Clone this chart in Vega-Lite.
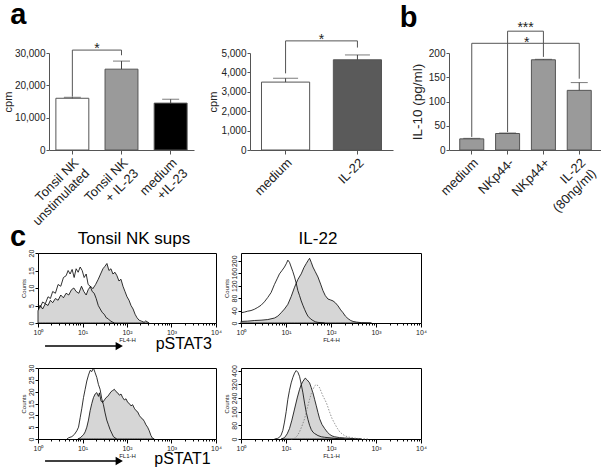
{
  "$schema": "https://vega.github.io/schema/vega-lite/v6.json",
  "background": "white",
  "padding": {"left": 2, "top": 0, "right": 0, "bottom": 0},
  "autosize": {"type": "pad"},
  "config": {
    "font": "Liberation Sans",
    "view": {"stroke": null},
    "axis": {"grid": false, "domainColor": "#555", "tickColor": "#555", "labelColor": "#222", "titleColor": "#222", "titleFontWeight": "normal", "labelOverlap": false},
    "title": {"color": "black"}
  },
  "datasets": {
    "one": [{"k": 1}],
    "a1": [
      {"group": "Tonsil NK|unstimulated", "cpm": 16000, "upper": 16300},
      {"group": "Tonsil NK|+ IL-23", "cpm": 25000, "upper": 27500},
      {"group": "medium|+IL-23", "cpm": 14500, "upper": 15700}
    ],
    "a1sig": [
      {"from": "Tonsil NK|unstimulated", "to": "Tonsil NK|+ IL-23", "top": 30900, "leftEnd": 16500, "rightEnd": 29300, "star": "*"}
    ],
    "a2": [
      {"group": "medium", "cpm": 3500, "upper": 3700},
      {"group": "IL-22", "cpm": 4650, "upper": 4900}
    ],
    "a2sig": [
      {"from": "medium", "to": "IL-22", "top": 5625, "leftEnd": 3950, "rightEnd": 5280, "star": "*"}
    ],
    "b": [
      {"group": "medium", "il10": 23, "upper": 24},
      {"group": "NKp44-", "il10": 34, "upper": 35},
      {"group": "NKp44+", "il10": 186, "upper": 187},
      {"group": "IL-22|(80ng/ml)", "il10": 123, "upper": 139}
    ],
    "bsig": [
      {"from": "NKp44-", "to": "NKp44+", "top": 245, "leftEnd": 37, "rightEnd": 192, "star": "***"},
      {"from": "medium", "to": "IL-22|(80ng/ml)", "top": 220, "leftEnd": 27, "rightEnd": 147, "star": "*"}
    ],
    "c1": [
      {"s": "shaded", "fl": 1.0, "n": 3.5}, {"s": "shaded", "fl": 1.13, "n": 5}, {"s": "shaded", "fl": 1.27, "n": 4}, {"s": "shaded", "fl": 1.46, "n": 5.5},
      {"s": "shaded", "fl": 1.68, "n": 5}, {"s": "shaded", "fl": 1.9, "n": 6.5}, {"s": "shaded", "fl": 2.14, "n": 5.8}, {"s": "shaded", "fl": 2.46, "n": 7},
      {"s": "shaded", "fl": 2.83, "n": 6.5}, {"s": "shaded", "fl": 3.25, "n": 8}, {"s": "shaded", "fl": 3.73, "n": 7.2}, {"s": "shaded", "fl": 4.28, "n": 8.5},
      {"s": "shaded", "fl": 4.92, "n": 8}, {"s": "shaded", "fl": 5.65, "n": 9.5}, {"s": "shaded", "fl": 6.38, "n": 10}, {"s": "shaded", "fl": 7.2, "n": 9},
      {"s": "shaded", "fl": 8.27, "n": 8.5}, {"s": "shaded", "fl": 9.49, "n": 10.5}, {"s": "shaded", "fl": 10.7, "n": 9}, {"s": "shaded", "fl": 12.1, "n": 8},
      {"s": "shaded", "fl": 13.4, "n": 9.5}, {"s": "shaded", "fl": 15.2, "n": 10.5}, {"s": "shaded", "fl": 17.1, "n": 9.8}, {"s": "shaded", "fl": 19.7, "n": 11},
      {"s": "shaded", "fl": 22.6, "n": 12.5}, {"s": "shaded", "fl": 25.5, "n": 14}, {"s": "shaded", "fl": 28.8, "n": 15.5}, {"s": "shaded", "fl": 31.9, "n": 16.2},
      {"s": "shaded", "fl": 35.4, "n": 17}, {"s": "shaded", "fl": 39.3, "n": 15}, {"s": "shaded", "fl": 43.6, "n": 15.5}, {"s": "shaded", "fl": 48.3, "n": 14},
      {"s": "shaded", "fl": 53.6, "n": 14.5}, {"s": "shaded", "fl": 59.5, "n": 13.5}, {"s": "shaded", "fl": 66.0, "n": 12}, {"s": "shaded", "fl": 73.2, "n": 12.5},
      {"s": "shaded", "fl": 81.2, "n": 10.5}, {"s": "shaded", "fl": 90.1, "n": 9}, {"s": "shaded", "fl": 100, "n": 7.5}, {"s": "shaded", "fl": 111, "n": 6.5},
      {"s": "shaded", "fl": 123, "n": 5}, {"s": "shaded", "fl": 137, "n": 4}, {"s": "shaded", "fl": 152, "n": 2.5}, {"s": "shaded", "fl": 168, "n": 1.5},
      {"s": "shaded", "fl": 187, "n": 0.8}, {"s": "shaded", "fl": 214, "n": 0.5}, {"s": "shaded", "fl": 242, "n": 0.2}, {"s": "shaded", "fl": 264, "n": 0.6},
      {"s": "shaded", "fl": 314, "n": 0},
      {"s": "open", "fl": 1.0, "n": 5.4}, {"s": "open", "fl": 1.13, "n": 4.5}, {"s": "open", "fl": 1.27, "n": 6}, {"s": "open", "fl": 1.46, "n": 5.5},
      {"s": "open", "fl": 1.68, "n": 7.5}, {"s": "open", "fl": 1.9, "n": 7}, {"s": "open", "fl": 2.14, "n": 9}, {"s": "open", "fl": 2.46, "n": 8.5},
      {"s": "open", "fl": 2.83, "n": 11}, {"s": "open", "fl": 3.25, "n": 10.5}, {"s": "open", "fl": 3.73, "n": 13}, {"s": "open", "fl": 4.28, "n": 13.5},
      {"s": "open", "fl": 4.75, "n": 15}, {"s": "open", "fl": 5.27, "n": 14}, {"s": "open", "fl": 5.85, "n": 15.3}, {"s": "open", "fl": 6.49, "n": 13},
      {"s": "open", "fl": 7.2, "n": 15.5}, {"s": "open", "fl": 7.99, "n": 14.5}, {"s": "open", "fl": 8.86, "n": 16}, {"s": "open", "fl": 9.83, "n": 15},
      {"s": "open", "fl": 10.9, "n": 13}, {"s": "open", "fl": 12.1, "n": 14}, {"s": "open", "fl": 13.4, "n": 11}, {"s": "open", "fl": 14.9, "n": 10.5},
      {"s": "open", "fl": 16.5, "n": 9}, {"s": "open", "fl": 18.3, "n": 8.5}, {"s": "open", "fl": 20.3, "n": 7}, {"s": "open", "fl": 22.6, "n": 5},
      {"s": "open", "fl": 25.0, "n": 4}, {"s": "open", "fl": 27.8, "n": 3}, {"s": "open", "fl": 30.8, "n": 2.5}, {"s": "open", "fl": 34.2, "n": 1.5},
      {"s": "open", "fl": 37.9, "n": 1.2}, {"s": "open", "fl": 42.1, "n": 0.6}, {"s": "open", "fl": 46.7, "n": 0.3}, {"s": "open", "fl": 51.8, "n": 0}
    ],
    "c2": [
      {"s": "open", "fl": 1.0, "n": 33}, {"s": "open", "fl": 1.19, "n": 35}, {"s": "open", "fl": 1.41, "n": 38}, {"s": "open", "fl": 1.67, "n": 40},
      {"s": "open", "fl": 1.98, "n": 44}, {"s": "open", "fl": 2.35, "n": 50}, {"s": "open", "fl": 2.79, "n": 57}, {"s": "open", "fl": 3.31, "n": 68},
      {"s": "open", "fl": 3.93, "n": 82}, {"s": "open", "fl": 4.67, "n": 98}, {"s": "open", "fl": 5.54, "n": 124}, {"s": "open", "fl": 6.35, "n": 142},
      {"s": "open", "fl": 7.16, "n": 158}, {"s": "open", "fl": 8.08, "n": 168}, {"s": "open", "fl": 9.26, "n": 180}, {"s": "open", "fl": 10.26, "n": 192},
      {"s": "open", "fl": 10.99, "n": 202}, {"s": "open", "fl": 11.97, "n": 195}, {"s": "open", "fl": 13.04, "n": 180}, {"s": "open", "fl": 14.21, "n": 165},
      {"s": "open", "fl": 15.48, "n": 148}, {"s": "open", "fl": 16.86, "n": 128}, {"s": "open", "fl": 18.36, "n": 104}, {"s": "open", "fl": 20.01, "n": 88},
      {"s": "open", "fl": 21.8, "n": 71}, {"s": "open", "fl": 23.74, "n": 57}, {"s": "open", "fl": 25.86, "n": 44}, {"s": "open", "fl": 28.18, "n": 32},
      {"s": "open", "fl": 30.69, "n": 22}, {"s": "open", "fl": 35.19, "n": 13}, {"s": "open", "fl": 39.67, "n": 8}, {"s": "open", "fl": 44.73, "n": 4},
      {"s": "open", "fl": 51.29, "n": 2}, {"s": "open", "fl": 72.23, "n": 0},
      {"s": "shaded", "fl": 1.0, "n": 5}, {"s": "shaded", "fl": 1.41, "n": 6}, {"s": "shaded", "fl": 1.98, "n": 8}, {"s": "shaded", "fl": 2.79, "n": 9},
      {"s": "shaded", "fl": 3.93, "n": 11}, {"s": "shaded", "fl": 5.54, "n": 16}, {"s": "shaded", "fl": 6.57, "n": 22}, {"s": "shaded", "fl": 7.8, "n": 33},
      {"s": "shaded", "fl": 9.26, "n": 45}, {"s": "shaded", "fl": 10.99, "n": 60}, {"s": "shaded", "fl": 13.04, "n": 85}, {"s": "shaded", "fl": 15.48, "n": 115},
      {"s": "shaded", "fl": 18.36, "n": 140}, {"s": "shaded", "fl": 21.8, "n": 158}, {"s": "shaded", "fl": 25.0, "n": 178}, {"s": "shaded", "fl": 28.18, "n": 191},
      {"s": "shaded", "fl": 30.69, "n": 200}, {"s": "shaded", "fl": 33.43, "n": 208}, {"s": "shaded", "fl": 36.41, "n": 195}, {"s": "shaded", "fl": 39.67, "n": 180},
      {"s": "shaded", "fl": 44.73, "n": 165}, {"s": "shaded", "fl": 51.29, "n": 148}, {"s": "shaded", "fl": 58.84, "n": 125}, {"s": "shaded", "fl": 66.3, "n": 104},
      {"s": "shaded", "fl": 74.74, "n": 88}, {"s": "shaded", "fl": 85.72, "n": 77}, {"s": "shaded", "fl": 98.31, "n": 74}, {"s": "shaded", "fl": 110.8, "n": 71},
      {"s": "shaded", "fl": 125.0, "n": 65}, {"s": "shaded", "fl": 143.3, "n": 55}, {"s": "shaded", "fl": 164.3, "n": 42}, {"s": "shaded", "fl": 185.2, "n": 33},
      {"s": "shaded", "fl": 208.8, "n": 22}, {"s": "shaded", "fl": 239.4, "n": 14}, {"s": "shaded", "fl": 274.6, "n": 8}, {"s": "shaded", "fl": 309.6, "n": 5},
      {"s": "shaded", "fl": 367.4, "n": 3}, {"s": "shaded", "fl": 474.9, "n": 1}, {"s": "shaded", "fl": 793.6, "n": 0}
    ],
    "c3": [
      {"s": "open", "fl": 4.46, "n": 0}, {"s": "open", "fl": 4.86, "n": 0.5}, {"s": "open", "fl": 5.77, "n": 1}, {"s": "open", "fl": 6.62, "n": 2},
      {"s": "open", "fl": 7.47, "n": 3.5}, {"s": "open", "fl": 8.14, "n": 5}, {"s": "open", "fl": 8.87, "n": 9}, {"s": "open", "fl": 9.66, "n": 13},
      {"s": "open", "fl": 10.53, "n": 17.5}, {"s": "open", "fl": 11.47, "n": 21}, {"s": "open", "fl": 12.5, "n": 24.5}, {"s": "open", "fl": 13.62, "n": 27},
      {"s": "open", "fl": 14.85, "n": 29}, {"s": "open", "fl": 16.18, "n": 28.5}, {"s": "open", "fl": 17.63, "n": 30}, {"s": "open", "fl": 19.21, "n": 28},
      {"s": "open", "fl": 20.94, "n": 26}, {"s": "open", "fl": 22.82, "n": 23}, {"s": "open", "fl": 24.86, "n": 21}, {"s": "open", "fl": 27.09, "n": 17},
      {"s": "open", "fl": 29.52, "n": 14.5}, {"s": "open", "fl": 32.18, "n": 11}, {"s": "open", "fl": 35.06, "n": 8}, {"s": "open", "fl": 38.21, "n": 6},
      {"s": "open", "fl": 41.63, "n": 4}, {"s": "open", "fl": 45.37, "n": 2.5}, {"s": "open", "fl": 49.43, "n": 1}, {"s": "open", "fl": 53.86, "n": 0.5},
      {"s": "open", "fl": 58.71, "n": 0},
      {"s": "shaded", "fl": 7.86, "n": 0}, {"s": "shaded", "fl": 8.87, "n": 0.5}, {"s": "shaded", "fl": 10.53, "n": 1.8}, {"s": "shaded", "fl": 11.47, "n": 3},
      {"s": "shaded", "fl": 12.5, "n": 5}, {"s": "shaded", "fl": 13.62, "n": 8}, {"s": "shaded", "fl": 14.85, "n": 12}, {"s": "shaded", "fl": 16.18, "n": 15},
      {"s": "shaded", "fl": 17.63, "n": 17.5}, {"s": "shaded", "fl": 19.21, "n": 19}, {"s": "shaded", "fl": 20.94, "n": 19.6}, {"s": "shaded", "fl": 22.82, "n": 18},
      {"s": "shaded", "fl": 24.02, "n": 19.5}, {"s": "shaded", "fl": 26.18, "n": 16}, {"s": "shaded", "fl": 28.52, "n": 15.5}, {"s": "shaded", "fl": 31.08, "n": 16.5},
      {"s": "shaded", "fl": 33.88, "n": 17.5}, {"s": "shaded", "fl": 36.92, "n": 18}, {"s": "shaded", "fl": 40.23, "n": 19}, {"s": "shaded", "fl": 43.84, "n": 20},
      {"s": "shaded", "fl": 47.77, "n": 20.5}, {"s": "shaded", "fl": 52.05, "n": 21}, {"s": "shaded", "fl": 56.72, "n": 20}, {"s": "shaded", "fl": 61.8, "n": 19.5},
      {"s": "shaded", "fl": 67.38, "n": 18.5}, {"s": "shaded", "fl": 73.42, "n": 19}, {"s": "shaded", "fl": 79.98, "n": 17.5}, {"s": "shaded", "fl": 87.16, "n": 16.5},
      {"s": "shaded", "fl": 94.97, "n": 17}, {"s": "shaded", "fl": 103.5, "n": 15.5}, {"s": "shaded", "fl": 112.8, "n": 15}, {"s": "shaded", "fl": 122.9, "n": 14},
      {"s": "shaded", "fl": 134.0, "n": 14.5}, {"s": "shaded", "fl": 146.0, "n": 13}, {"s": "shaded", "fl": 159.1, "n": 12}, {"s": "shaded", "fl": 173.3, "n": 11.5},
      {"s": "shaded", "fl": 188.9, "n": 10}, {"s": "shaded", "fl": 205.8, "n": 9}, {"s": "shaded", "fl": 224.3, "n": 8.5}, {"s": "shaded", "fl": 244.4, "n": 7.5},
      {"s": "shaded", "fl": 266.3, "n": 6}, {"s": "shaded", "fl": 290.2, "n": 5}, {"s": "shaded", "fl": 316.2, "n": 3.5}, {"s": "shaded", "fl": 344.6, "n": 1.5},
      {"s": "shaded", "fl": 375.5, "n": 0.3}, {"s": "shaded", "fl": 409.2, "n": 0}
    ],
    "c4": [
      {"s": "open", "fl": 5.54, "n": 0}, {"s": "open", "fl": 6.57, "n": 4}, {"s": "open", "fl": 7.16, "n": 10}, {"s": "open", "fl": 7.8, "n": 23},
      {"s": "open", "fl": 8.5, "n": 50}, {"s": "open", "fl": 9.26, "n": 99}, {"s": "open", "fl": 10.09, "n": 160}, {"s": "open", "fl": 10.99, "n": 232},
      {"s": "open", "fl": 11.97, "n": 285}, {"s": "open", "fl": 13.04, "n": 328}, {"s": "open", "fl": 14.21, "n": 360}, {"s": "open", "fl": 15.48, "n": 385},
      {"s": "open", "fl": 16.86, "n": 400}, {"s": "open", "fl": 18.36, "n": 390}, {"s": "open", "fl": 20.01, "n": 366}, {"s": "open", "fl": 21.8, "n": 320},
      {"s": "open", "fl": 23.74, "n": 270}, {"s": "open", "fl": 25.86, "n": 210}, {"s": "open", "fl": 28.18, "n": 156}, {"s": "open", "fl": 30.69, "n": 115},
      {"s": "open", "fl": 33.43, "n": 80}, {"s": "open", "fl": 36.41, "n": 55}, {"s": "open", "fl": 39.67, "n": 40}, {"s": "open", "fl": 43.22, "n": 32},
      {"s": "open", "fl": 51.29, "n": 20}, {"s": "open", "fl": 60.87, "n": 13}, {"s": "open", "fl": 72.23, "n": 10}, {"s": "open", "fl": 85.72, "n": 8},
      {"s": "open", "fl": 110.8, "n": 5}, {"s": "open", "fl": 143.3, "n": 2}, {"s": "open", "fl": 201.7, "n": 0},
      {"s": "shaded", "fl": 7.8, "n": 0}, {"s": "shaded", "fl": 9.26, "n": 8}, {"s": "shaded", "fl": 10.62, "n": 30}, {"s": "shaded", "fl": 11.97, "n": 61},
      {"s": "shaded", "fl": 13.5, "n": 110}, {"s": "shaded", "fl": 15.48, "n": 175}, {"s": "shaded", "fl": 17.75, "n": 240}, {"s": "shaded", "fl": 20.01, "n": 290},
      {"s": "shaded", "fl": 21.8, "n": 318}, {"s": "shaded", "fl": 23.74, "n": 337}, {"s": "shaded", "fl": 26.76, "n": 356}, {"s": "shaded", "fl": 29.66, "n": 345},
      {"s": "shaded", "fl": 33.43, "n": 328}, {"s": "shaded", "fl": 36.41, "n": 300}, {"s": "shaded", "fl": 39.67, "n": 270}, {"s": "shaded", "fl": 43.22, "n": 232},
      {"s": "shaded", "fl": 47.09, "n": 194}, {"s": "shaded", "fl": 51.29, "n": 155}, {"s": "shaded", "fl": 55.88, "n": 118}, {"s": "shaded", "fl": 63.0, "n": 85},
      {"s": "shaded", "fl": 72.23, "n": 61}, {"s": "shaded", "fl": 82.83, "n": 40}, {"s": "shaded", "fl": 93.4, "n": 27}, {"s": "shaded", "fl": 105.3, "n": 18},
      {"s": "shaded", "fl": 120.7, "n": 13}, {"s": "shaded", "fl": 156.1, "n": 8}, {"s": "shaded", "fl": 201.7, "n": 6}, {"s": "shaded", "fl": 260.9, "n": 4},
      {"s": "shaded", "fl": 337.3, "n": 2}, {"s": "shaded", "fl": 474.9, "n": 0},
      {"s": "dotted", "fl": 13.04, "n": 0}, {"s": "dotted", "fl": 15.48, "n": 4}, {"s": "dotted", "fl": 17.75, "n": 18}, {"s": "dotted", "fl": 20.01, "n": 42},
      {"s": "dotted", "fl": 22.55, "n": 75}, {"s": "dotted", "fl": 25.86, "n": 118}, {"s": "dotted", "fl": 29.66, "n": 180}, {"s": "dotted", "fl": 33.43, "n": 232},
      {"s": "dotted", "fl": 36.41, "n": 265}, {"s": "dotted", "fl": 39.67, "n": 290}, {"s": "dotted", "fl": 43.22, "n": 310}, {"s": "dotted", "fl": 47.09, "n": 318},
      {"s": "dotted", "fl": 51.29, "n": 312}, {"s": "dotted", "fl": 55.88, "n": 299}, {"s": "dotted", "fl": 60.87, "n": 275}, {"s": "dotted", "fl": 66.3, "n": 251},
      {"s": "dotted", "fl": 72.23, "n": 232}, {"s": "dotted", "fl": 78.69, "n": 213}, {"s": "dotted", "fl": 85.72, "n": 185}, {"s": "dotted", "fl": 93.4, "n": 156},
      {"s": "dotted", "fl": 105.3, "n": 120}, {"s": "dotted", "fl": 120.7, "n": 90}, {"s": "dotted", "fl": 138.5, "n": 62}, {"s": "dotted", "fl": 156.1, "n": 42},
      {"s": "dotted", "fl": 176.0, "n": 30}, {"s": "dotted", "fl": 201.7, "n": 19}, {"s": "dotted", "fl": 239.4, "n": 12}, {"s": "dotted", "fl": 284.1, "n": 8},
      {"s": "dotted", "fl": 367.4, "n": 4}, {"s": "dotted", "fl": 474.9, "n": 2}, {"s": "dotted", "fl": 668.8, "n": 0}
    ]
  },
  "vconcat": [
    {
      "hconcat": [
        {
          "width": 156, "height": 97,
          "resolve": {"axis": {"x": "independent", "y": "independent"}},
          "layer": [
            {
              "data": {"name": "a1"},
              "mark": {"type": "bar", "stroke": "#555", "strokeWidth": 1},
              "encoding": {
                "x": {"field": "group", "type": "nominal", "sort": null,
                      "scale": {"domain": ["Tonsil NK|unstimulated", "Tonsil NK|+ IL-23", "medium|+IL-23"], "range": [11, 156], "paddingInner": 0.33, "paddingOuter": 0.14},
                      "axis": {"title": null, "labelAngle": -45, "labelAlign": "right", "labelBaseline": "top", "labelExpr": "split(datum.label, '|')", "labelFontSize": 13, "tickSize": 4, "labelPadding": 2}},
                "y": {"field": "cpm", "type": "quantitative", "scale": {"domain": [0, 30000], "nice": false},
                      "axis": {"title": "cpm", "offset": -11, "values": [0, 10000, 20000, 30000], "format": ",d", "labelOverlap": false, "titleFontSize": 11, "labelFontSize": 10, "tickSize": 3, "labelPadding": 1, "titlePadding": 1}},
                "fill": {"field": "group", "type": "nominal", "sort": null, "scale": {"domain": ["Tonsil NK|unstimulated", "Tonsil NK|+ IL-23", "medium|+IL-23"], "range": ["#ffffff", "#9a9a9a", "#000000"]}, "legend": null}
              }
            },
            {
              "data": {"name": "a1"},
              "mark": {"type": "rule", "color": "#444"},
              "encoding": {"x": {"field": "group", "type": "nominal", "axis": null}, "y": {"field": "cpm", "type": "quantitative", "axis": null}, "y2": {"field": "upper"}}
            },
            {
              "data": {"name": "a1"},
              "mark": {"type": "tick", "color": "#444", "size": 17, "thickness": 1, "orient": "horizontal"},
              "encoding": {"x": {"field": "group", "type": "nominal", "axis": null}, "y": {"field": "upper", "type": "quantitative", "axis": null}}
            },
            {
              "data": {"name": "a1sig"},
              "mark": {"type": "rule", "color": "#555"},
              "encoding": {"x": {"field": "from", "type": "nominal", "axis": null}, "x2": {"field": "to"}, "y": {"field": "top", "type": "quantitative", "axis": null}}
            },
            {
              "data": {"name": "a1sig"},
              "mark": {"type": "rule", "color": "#555"},
              "encoding": {"x": {"field": "from", "type": "nominal", "axis": null}, "y": {"field": "top", "type": "quantitative", "axis": null}, "y2": {"field": "leftEnd"}}
            },
            {
              "data": {"name": "a1sig"},
              "mark": {"type": "rule", "color": "#555"},
              "encoding": {"x": {"field": "to", "type": "nominal", "axis": null}, "y": {"field": "top", "type": "quantitative", "axis": null}, "y2": {"field": "rightEnd"}}
            },
            {
              "data": {"name": "a1sig"},
              "mark": {"type": "text", "dx": 24.5, "dy": 3, "fontSize": 14, "baseline": "alphabetic", "color": "#222"},
              "encoding": {"x": {"field": "from", "type": "nominal", "axis": null}, "y": {"field": "top", "type": "quantitative", "axis": null}, "text": {"field": "star"}}
            },
            {
              "data": {"name": "a1sig"},
              "mark": {"type": "text", "text": "a", "dx": -62, "fontSize": 29, "fontWeight": "bold", "align": "left", "baseline": "alphabetic", "color": "black"},
              "encoding": {"x": {"datum": "Tonsil NK|unstimulated", "axis": null}, "y": {"datum": 38970, "axis": null}}
            }
          ]
        },
        {
          "width": 143, "height": 97,
          "resolve": {"axis": {"x": "independent", "y": "independent"}},
          "layer": [
            {
              "data": {"name": "a2"},
              "mark": {"type": "bar", "stroke": "#555", "strokeWidth": 1},
              "encoding": {
                "x": {"field": "group", "type": "nominal", "sort": null,
                      "scale": {"domain": ["medium", "IL-22"], "paddingInner": 0.33, "paddingOuter": 0.16},
                      "axis": {"title": null, "labelAngle": -45, "labelAlign": "right", "labelBaseline": "top", "labelFontSize": 13, "tickSize": 4, "labelPadding": 2}},
                "y": {"field": "cpm", "type": "quantitative", "scale": {"domain": [0, 5000], "nice": false},
                      "axis": {"title": "cpm", "values": [0, 1000, 2000, 3000, 4000, 5000], "format": ",d", "labelOverlap": false, "titleFontSize": 11, "labelFontSize": 10, "tickSize": 3, "labelPadding": 1, "titlePadding": 2}},
                "fill": {"field": "group", "type": "nominal", "sort": null, "scale": {"domain": ["medium", "IL-22"], "range": ["#ffffff", "#5a5a5a"]}, "legend": null}
              }
            },
            {
              "data": {"name": "a2"},
              "mark": {"type": "rule", "color": "#444"},
              "encoding": {"x": {"field": "group", "type": "nominal", "axis": null}, "y": {"field": "cpm", "type": "quantitative", "axis": null}, "y2": {"field": "upper"}}
            },
            {
              "data": {"name": "a2"},
              "mark": {"type": "tick", "color": "#444", "size": 25, "thickness": 1, "orient": "horizontal"},
              "encoding": {"x": {"field": "group", "type": "nominal", "axis": null}, "y": {"field": "upper", "type": "quantitative", "axis": null}}
            },
            {
              "data": {"name": "a2sig"},
              "mark": {"type": "rule", "color": "#555"},
              "encoding": {"x": {"field": "from", "type": "nominal", "axis": null}, "x2": {"field": "to"}, "y": {"field": "top", "type": "quantitative", "axis": null}}
            },
            {
              "data": {"name": "a2sig"},
              "mark": {"type": "rule", "color": "#555"},
              "encoding": {"x": {"field": "from", "type": "nominal", "axis": null}, "y": {"field": "top", "type": "quantitative", "axis": null}, "y2": {"field": "leftEnd"}}
            },
            {
              "data": {"name": "a2sig"},
              "mark": {"type": "rule", "color": "#555"},
              "encoding": {"x": {"field": "to", "type": "nominal", "axis": null}, "y": {"field": "top", "type": "quantitative", "axis": null}, "y2": {"field": "rightEnd"}}
            },
            {
              "data": {"name": "a2sig"},
              "mark": {"type": "text", "dx": 36, "dy": 3, "fontSize": 14, "baseline": "alphabetic", "color": "#222"},
              "encoding": {"x": {"field": "from", "type": "nominal", "axis": null}, "y": {"field": "top", "type": "quantitative", "axis": null}, "text": {"field": "star"}}
            }
          ]
        },
        {
          "width": 153, "height": 97,
          "resolve": {"axis": {"x": "independent", "y": "independent"}},
          "layer": [
            {
              "data": {"name": "b"},
              "mark": {"type": "bar", "stroke": "#555", "strokeWidth": 1, "fill": "#9a9a9a"},
              "encoding": {
                "x": {"field": "group", "type": "nominal", "sort": null,
                      "scale": {"domain": ["medium", "NKp44-", "NKp44+", "IL-22|(80ng/ml)"], "paddingInner": 0.33, "paddingOuter": 0.3},
                      "axis": {"title": null, "labelAngle": -45, "labelAlign": "right", "labelBaseline": "top", "labelExpr": "split(datum.label, '|')", "labelFontSize": 13, "tickSize": 4, "labelPadding": 2}},
                "y": {"field": "il10", "type": "quantitative", "scale": {"domain": [0, 200], "nice": false},
                      "axis": {"title": "IL-10 (pg/ml)", "values": [0, 50, 100, 150, 200], "format": "d", "labelOverlap": false, "titleFontSize": 13.5, "labelFontSize": 10, "tickSize": 3, "labelPadding": 1, "titlePadding": 4}}
              }
            },
            {
              "data": {"name": "b"},
              "mark": {"type": "rule", "color": "#444"},
              "encoding": {"x": {"field": "group", "type": "nominal", "axis": null}, "y": {"field": "il10", "type": "quantitative", "axis": null}, "y2": {"field": "upper"}}
            },
            {
              "data": {"name": "b"},
              "mark": {"type": "tick", "color": "#444", "size": 17, "thickness": 1, "orient": "horizontal"},
              "encoding": {"x": {"field": "group", "type": "nominal", "axis": null}, "y": {"field": "upper", "type": "quantitative", "axis": null}}
            },
            {
              "data": {"name": "bsig"},
              "mark": {"type": "rule", "color": "#555"},
              "encoding": {"x": {"field": "from", "type": "nominal", "axis": null}, "x2": {"field": "to"}, "y": {"field": "top", "type": "quantitative", "axis": null}}
            },
            {
              "data": {"name": "bsig"},
              "mark": {"type": "rule", "color": "#555"},
              "encoding": {"x": {"field": "from", "type": "nominal", "axis": null}, "y": {"field": "top", "type": "quantitative", "axis": null}, "y2": {"field": "leftEnd"}}
            },
            {
              "data": {"name": "bsig"},
              "mark": {"type": "rule", "color": "#555"},
              "encoding": {"x": {"field": "to", "type": "nominal", "axis": null}, "y": {"field": "top", "type": "quantitative", "axis": null}, "y2": {"field": "rightEnd"}}
            },
            {
              "data": {"name": "bsig"},
              "transform": [{"filter": "datum.star == '***'"}],
              "mark": {"type": "text", "dx": 18, "dy": 1, "fontSize": 14, "baseline": "alphabetic", "color": "#222"},
              "encoding": {"x": {"field": "from", "type": "nominal", "axis": null}, "y": {"field": "top", "type": "quantitative", "axis": null}, "text": {"field": "star"}}
            },
            {
              "data": {"name": "bsig"},
              "transform": [{"filter": "datum.star == '*'"}],
              "mark": {"type": "text", "dx": 55, "dy": 4, "fontSize": 14, "baseline": "alphabetic", "color": "#222"},
              "encoding": {"x": {"field": "from", "type": "nominal", "axis": null}, "y": {"field": "top", "type": "quantitative", "axis": null}, "text": {"field": "star"}}
            },
            {
              "data": {"name": "one"},
              "mark": {"type": "text", "text": "b", "dx": -72, "fontSize": 29, "fontWeight": "bold", "align": "left", "baseline": "alphabetic", "color": "black"},
              "encoding": {"x": {"datum": "medium", "axis": null}, "y": {"datum": 253, "axis": null}}
            }
          ]
        }
      ],
      "spacing": 56,
      "bounds": "flush",
      "resolve": {"scale": {"fill": "independent"}}
    },
    {
      "concat": [
        {
          "width": 178, "height": 70,
          "view": {"stroke": "black", "strokeWidth": 1},
          "resolve": {"axis": {"x": "independent", "y": "independent"}},
          "layer": [
            {"data": {"name": "c1"}, "transform": [{"filter": "datum.s == 'shaded'"}], "mark": {"type": "area", "fill": "#d6d6d6", "stroke": "black", "strokeWidth": 0.8},
             "encoding": {
               "x": {"field": "fl", "type": "quantitative", "scale": {"type": "log", "domain": [1, 10000]},
                     "axis": {"title": "FL4-H", "titleFontSize": 6, "titlePadding": 1, "values": [1,2,3,4,5,6,7,8,9,10,20,30,40,50,60,70,80,90,100,200,300,400,500,600,700,800,900,1000,2000,3000,4000,5000,6000,7000,8000,9000,10000],
                              "labelExpr": "datum.value == 1 ? '10⁰' : datum.value == 10 ? '10¹' : datum.value == 100 ? '10²' : datum.value == 1000 ? '10³' : datum.value == 10000 ? '10⁴' : ''",
                              "labelFontSize": 7, "labelPadding": 1, "labelFlush": false, "labelOverlap": false, "domain": false, "tickColor": "black",
                              "tickSize": {"condition": {"test": "indexof([1,10,100,1000,10000], datum.value) >= 0", "value": 4}, "value": 2}}},
               "y": {"field": "n", "type": "quantitative", "scale": {"domain": [0, 20], "nice": false},
                     "axis": {"title": "Counts", "titleFontSize": 6, "titlePadding": 1, "values": [0, 5, 10, 15, 20], "labelAngle": 270, "labelAlign": "center", "labelBaseline": "bottom", "labelOverlap": false, "labelFontSize": 7, "labelPadding": 1, "tickSize": 3, "domain": false, "tickColor": "black"}}
             }},
            {"data": {"name": "c1"}, "transform": [{"filter": "datum.s == 'open'"}], "mark": {"type": "line", "color": "black", "strokeWidth": 0.8},
             "encoding": {"x": {"field": "fl", "type": "quantitative", "axis": null}, "y": {"field": "n", "type": "quantitative", "axis": null}}},
            {"data": {"name": "one"}, "mark": {"type": "text", "text": "c", "fontSize": 29, "fontWeight": "bold", "align": "left", "baseline": "alphabetic", "color": "black"}, "encoding": {"x": {"datum": 0.235, "axis": null}, "y": {"datum": 22, "axis": null}}},
            {"data": {"name": "one"}, "mark": {"type": "text", "text": "Tonsil NK sups", "fontSize": 17, "align": "center", "baseline": "alphabetic", "color": "black"}, "encoding": {"x": {"datum": 144, "axis": null}, "y": {"datum": 22.6, "axis": null}}},
            {"data": {"name": "one"}, "mark": {"type": "rule", "color": "black", "strokeWidth": 1.5}, "encoding": {"x": {"datum": 1.44, "axis": null}, "x2": {"datum": 67}, "y": {"datum": -6.6, "axis": null}}},
            {"data": {"name": "one"}, "mark": {"type": "point", "shape": "triangle-right", "filled": true, "color": "black", "size": 70, "opacity": 1}, "encoding": {"x": {"datum": 67, "axis": null}, "y": {"datum": -6.6, "axis": null}}},
            {"data": {"name": "one"}, "mark": {"type": "text", "text": "pSTAT3", "fontSize": 16, "align": "left", "baseline": "alphabetic", "color": "black"}, "encoding": {"x": {"datum": 441, "axis": null}, "y": {"datum": -7.4, "axis": null}}}
          ]
        },
        {
          "width": 180, "height": 70,
          "view": {"stroke": "black", "strokeWidth": 1},
          "resolve": {"axis": {"x": "independent", "y": "independent"}},
          "layer": [
            {"data": {"name": "c2"}, "transform": [{"filter": "datum.s == 'shaded'"}], "mark": {"type": "area", "fill": "#d6d6d6", "stroke": "black", "strokeWidth": 0.8},
             "encoding": {
               "x": {"field": "fl", "type": "quantitative", "scale": {"type": "log", "domain": [1, 10000]},
                     "axis": {"title": "FL4-H", "titleFontSize": 6, "titlePadding": 1, "values": [1,2,3,4,5,6,7,8,9,10,20,30,40,50,60,70,80,90,100,200,300,400,500,600,700,800,900,1000,2000,3000,4000,5000,6000,7000,8000,9000,10000],
                              "labelExpr": "datum.value == 1 ? '10⁰' : datum.value == 10 ? '10¹' : datum.value == 100 ? '10²' : datum.value == 1000 ? '10³' : datum.value == 10000 ? '10⁴' : ''",
                              "labelFontSize": 7, "labelPadding": 1, "labelFlush": false, "labelOverlap": false, "domain": false, "tickColor": "black",
                              "tickSize": {"condition": {"test": "indexof([1,10,100,1000,10000], datum.value) >= 0", "value": 4}, "value": 2}}},
               "y": {"field": "n", "type": "quantitative", "scale": {"domain": [0, 225], "nice": false},
                     "axis": {"title": "Counts", "titleFontSize": 6, "titlePadding": 1, "values": [0, 40, 80, 120, 160, 200], "labelAngle": 270, "labelAlign": "center", "labelBaseline": "bottom", "labelOverlap": false, "labelFontSize": 7, "labelPadding": 1, "tickSize": 3, "domain": false, "tickColor": "black"}}
             }},
            {"data": {"name": "c2"}, "transform": [{"filter": "datum.s == 'open'"}], "mark": {"type": "line", "color": "black", "strokeWidth": 0.8},
             "encoding": {"x": {"field": "fl", "type": "quantitative", "axis": null}, "y": {"field": "n", "type": "quantitative", "axis": null}}},
            {"data": {"name": "one"}, "mark": {"type": "text", "text": "IL-22", "fontSize": 17, "align": "center", "baseline": "alphabetic", "color": "black"}, "encoding": {"x": {"datum": 51.4, "axis": null}, "y": {"datum": 254, "axis": null}}}
          ]
        },
        {
          "width": 178, "height": 71,
          "view": {"stroke": "black", "strokeWidth": 1},
          "resolve": {"axis": {"x": "independent", "y": "independent"}},
          "layer": [
            {"data": {"name": "c3"}, "transform": [{"filter": "datum.s == 'shaded'"}], "mark": {"type": "area", "fill": "#d6d6d6", "stroke": "black", "strokeWidth": 0.8},
             "encoding": {
               "x": {"field": "fl", "type": "quantitative", "scale": {"type": "log", "domain": [1, 10000]},
                     "axis": {"title": "FL1-H", "titleFontSize": 6, "titlePadding": 1, "values": [1,2,3,4,5,6,7,8,9,10,20,30,40,50,60,70,80,90,100,200,300,400,500,600,700,800,900,1000,2000,3000,4000,5000,6000,7000,8000,9000,10000],
                              "labelExpr": "datum.value == 1 ? '10⁰' : datum.value == 10 ? '10¹' : datum.value == 100 ? '10²' : datum.value == 1000 ? '10³' : datum.value == 10000 ? '10⁴' : ''",
                              "labelFontSize": 7, "labelPadding": 1, "labelFlush": false, "labelOverlap": false, "domain": false, "tickColor": "black",
                              "tickSize": {"condition": {"test": "indexof([1,10,100,1000,10000], datum.value) >= 0", "value": 4}, "value": 2}}},
               "y": {"field": "n", "type": "quantitative", "scale": {"domain": [0, 30], "nice": false},
                     "axis": {"title": "Counts", "titleFontSize": 6, "titlePadding": 1, "values": [0, 5, 10, 15, 20, 25, 30], "labelAngle": 270, "labelAlign": "center", "labelBaseline": "bottom", "labelOverlap": false, "labelFontSize": 7, "labelPadding": 1, "tickSize": 3, "domain": false, "tickColor": "black"}}
             }},
            {"data": {"name": "c3"}, "transform": [{"filter": "datum.s == 'open'"}], "mark": {"type": "line", "color": "black", "strokeWidth": 0.8},
             "encoding": {"x": {"field": "fl", "type": "quantitative", "axis": null}, "y": {"field": "n", "type": "quantitative", "axis": null}}},
            {"data": {"name": "one"}, "mark": {"type": "rule", "color": "black", "strokeWidth": 1.5}, "encoding": {"x": {"datum": 1.44, "axis": null}, "x2": {"datum": 67}, "y": {"datum": -9.3, "axis": null}}},
            {"data": {"name": "one"}, "mark": {"type": "point", "shape": "triangle-right", "filled": true, "color": "black", "size": 70, "opacity": 1}, "encoding": {"x": {"datum": 67, "axis": null}, "y": {"datum": -9.3, "axis": null}}},
            {"data": {"name": "one"}, "mark": {"type": "text", "text": "pSTAT1", "fontSize": 16, "align": "left", "baseline": "alphabetic", "color": "black"}, "encoding": {"x": {"datum": 412, "axis": null}, "y": {"datum": -10.6, "axis": null}}}
          ]
        },
        {
          "width": 180, "height": 71,
          "view": {"stroke": "black", "strokeWidth": 1},
          "resolve": {"axis": {"x": "independent", "y": "independent"}},
          "layer": [
            {"data": {"name": "c4"}, "transform": [{"filter": "datum.s == 'shaded'"}], "mark": {"type": "area", "fill": "#d6d6d6", "stroke": "black", "strokeWidth": 0.8},
             "encoding": {
               "x": {"field": "fl", "type": "quantitative", "scale": {"type": "log", "domain": [1, 10000]},
                     "axis": {"title": "FL1-H", "titleFontSize": 6, "titlePadding": 1, "values": [1,2,3,4,5,6,7,8,9,10,20,30,40,50,60,70,80,90,100,200,300,400,500,600,700,800,900,1000,2000,3000,4000,5000,6000,7000,8000,9000,10000],
                              "labelExpr": "datum.value == 1 ? '10⁰' : datum.value == 10 ? '10¹' : datum.value == 100 ? '10²' : datum.value == 1000 ? '10³' : datum.value == 10000 ? '10⁴' : ''",
                              "labelFontSize": 7, "labelPadding": 1, "labelFlush": false, "labelOverlap": false, "domain": false, "tickColor": "black",
                              "tickSize": {"condition": {"test": "indexof([1,10,100,1000,10000], datum.value) >= 0", "value": 4}, "value": 2}}},
               "y": {"field": "n", "type": "quantitative", "scale": {"domain": [0, 415], "nice": false},
                     "axis": {"title": "Counts", "titleFontSize": 6, "titlePadding": 1, "values": [0, 80, 160, 240, 320, 400], "labelAngle": 270, "labelAlign": "center", "labelBaseline": "bottom", "labelOverlap": false, "labelFontSize": 7, "labelPadding": 1, "tickSize": 3, "domain": false, "tickColor": "black"}}
             }},
            {"data": {"name": "c4"}, "transform": [{"filter": "datum.s == 'open'"}], "mark": {"type": "line", "color": "black", "strokeWidth": 0.8},
             "encoding": {"x": {"field": "fl", "type": "quantitative", "axis": null}, "y": {"field": "n", "type": "quantitative", "axis": null}}},
            {"data": {"name": "c4"}, "transform": [{"filter": "datum.s == 'dotted'"}], "mark": {"type": "line", "color": "#777", "strokeWidth": 0.8, "strokeDash": [1.5, 1.5]},
             "encoding": {"x": {"field": "fl", "type": "quantitative", "axis": null}, "y": {"field": "n", "type": "quantitative", "axis": null}}}
          ]
        }
      ],
      "columns": 2,
      "align": "none",
      "spacing": {"row": 45, "column": 25},
      "bounds": "flush"
    }
  ],
  "spacing": 200,
  "bounds": "flush",
  "resolve": {"scale": {"fill": "independent"}}
}
